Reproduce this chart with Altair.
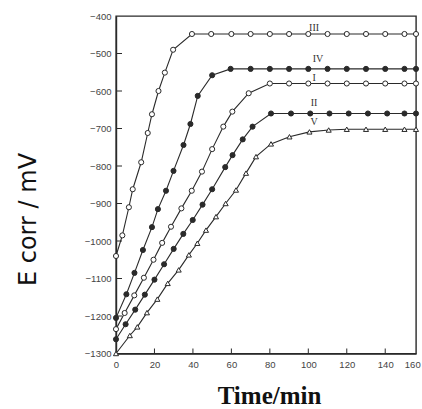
import altair as alt
import pandas as pd

# ---- data (time in min, Ecorr in mV) ----
series_names = ["III", "IV", "I", "II", "V"]

III_t = [0, 3.3, 6.7, 8.7, 13.1, 16.5, 18.7, 22.1, 25.4, 29.7, 39.5, 49.5, 60, 70, 80, 90, 100, 110, 120, 130, 140, 150, 156]
III_v = [-1040, -985, -910, -862, -790, -712, -662, -600, -551, -490, -448, -448, -448, -448, -448, -448, -448, -448, -448, -448, -448, -448, -448]

IV_t = [0, 5.4, 9.6, 14.0, 18.7, 21.8, 26.0, 29.9, 35.1, 38.7, 42.5, 50, 59.6, 70, 80, 90, 100, 110, 120, 130, 140, 150, 156]
IV_v = [-1205, -1142, -1085, -1024, -963, -915, -866, -813, -744, -688, -613, -558, -541, -541, -541, -541, -541, -541, -541, -541, -541, -541, -541]

I_t = [0, 4.5, 9.5, 14.5, 19.5, 24, 28.6, 34, 39.4, 44.7, 50, 55.8, 60.5, 69, 80, 90, 100, 110, 120, 130, 140, 150, 156]
I_v = [-1235, -1192, -1145, -1098, -1050, -1005, -962, -913, -866, -815, -755, -695, -655, -606, -580, -580, -580, -580, -580, -580, -580, -580, -580]

II_t = [0, 5, 10, 15, 20, 25, 30, 35, 39.9, 45, 50, 56.8, 60.6, 65.9, 71, 80.6, 91, 101, 111, 121, 131, 141, 150, 156]
II_v = [-1262, -1222, -1183, -1143, -1103, -1062, -1021, -981, -944, -903, -862, -803, -771, -729, -695, -660, -660, -660, -660, -660, -660, -660, -660, -660]

V_t = [0, 7.2, 11.1, 16.1, 21.5, 26.9, 32.6, 37.9, 42.3, 46.8, 52, 57, 62.4, 67.6, 72.8, 80.6, 90.2, 100.6, 110.6, 120, 130, 140, 150, 156]
V_v = [-1300, -1252, -1229, -1191, -1155, -1113, -1077, -1037, -1006, -971, -935, -900, -864, -819, -775, -741, -722, -709, -704, -702, -702, -702, -702, -702]

label_text = ["III", "IV", "I", "II", "V"]
label_t = [103, 105, 103, 103, 103]
label_v = [-432, -515, -564, -633, -682]

x_ticks = [0, 20, 40, 60, 80, 100, 120, 140]
x_extra_tick = [160]   # last tick label, just past the right frame
y_ticks = [-400, -500, -600, -700, -800, -900, -1000, -1100, -1200, -1300]

# ---- build tables ----
rows = []
for name, ts, vs in [("III", III_t, III_v), ("IV", IV_t, IV_v), ("I", I_t, I_v),
                     ("II", II_t, II_v), ("V", V_t, V_v)]:
    for t, v in zip(ts, vs):
        rows.append({"series": name, "t": t, "v": v})
df = pd.DataFrame(rows)
labels_df = pd.DataFrame({"lab": label_text, "t": label_t, "v": label_v})
xt_df = pd.DataFrame({"t": [t for t in x_ticks if 0 < t < 156]})
yt_df = pd.DataFrame({"v": [v for v in y_ticks if -1300 < v < -400]})
xlab_df = pd.DataFrame({"t": x_extra_tick, "txt": [str(t) for t in x_extra_tick]})

W, H = 300, 337.5
INK = "#2a2a2a"

xscale = alt.Scale(domain=[0, 156], nice=False, zero=False)
yscale = alt.Scale(domain=[-1300, -400], nice=False, zero=False)

xaxis = alt.Axis(values=x_ticks, ticks=False, grid=False, domainColor=INK, domainWidth=1.4,
                 labelFont="Liberation Sans", labelFontSize=9.5, labelColor="#444",
                 labelPadding=6, labelFlush=False, labelOverlap=False, format="d",
                 title="Time/min", titleFont="Liberation Serif", titleFontSize=25,
                 titleFontWeight="bold", titleColor="#111", titleX=153, titleY=50,
                 titleBaseline="alphabetic", titleAlign="center")
yaxis = alt.Axis(values=y_ticks, ticks=False, grid=False, domainColor=INK, domainWidth=1.4,
                 labelFont="Liberation Sans", labelFontSize=9.5, labelColor="#444",
                 labelPadding=5, labelFlush=False, labelOverlap=False, format="d",
                 title="E corr / mV", titleFont="DejaVu Sans", titleFontSize=24,
                 titleFontWeight="normal", titleColor="#111", titleAngle=270,
                 titleX=-81, titleY=203, titleBaseline="alphabetic", titleAlign="center")

X = alt.X("t:Q", scale=xscale, axis=xaxis)
Y = alt.Y("v:Q", scale=yscale, axis=yaxis)

base = alt.Chart(df)
lines = base.mark_line(color=INK, strokeWidth=1.1).encode(x=X, y=Y, detail="series:N")
points = base.mark_point(size=26, strokeWidth=1, opacity=1, stroke=INK).encode(
    x=X, y=Y,
    shape=alt.Shape("series:N", scale=alt.Scale(domain=series_names,
                    range=["circle", "circle", "circle", "circle", "triangle-up"]), legend=None),
    fill=alt.Fill("series:N", scale=alt.Scale(domain=series_names,
                  range=["white", INK, "white", INK, "white"]), legend=None),
)
labels = alt.Chart(labels_df).mark_text(font="Liberation Serif", fontSize=10, color="#333",
                                         baseline="middle", align="center").encode(x=X, y=Y, text="lab:N")
xticks = alt.Chart(xt_df).mark_rule(color=INK, strokeWidth=1).encode(
    x=X, y=alt.value(H), y2=alt.value(H - 5))
yticks = alt.Chart(yt_df).mark_rule(color=INK, strokeWidth=1).encode(
    y=Y, x=alt.value(0), x2=alt.value(6))
xlast = alt.Chart(xlab_df).mark_text(font="Liberation Sans", fontSize=9.5, color="#444",
                                     baseline="top", align="right", dx=-3).encode(
    x=X, y=alt.value(H + 6), text="txt:N")

chart = alt.layer(lines, points, labels, xticks, yticks, xlast).properties(
    width=W, height=H,
    autosize=alt.AutoSizeParams(type="none"),
    padding={"left": 116, "top": 16, "right": 6, "bottom": 55.5},
    background="white",
).configure_view(stroke=INK, strokeWidth=1.4)

chart.save("out.html", embed_options={"renderer": "svg", "actions": False})
